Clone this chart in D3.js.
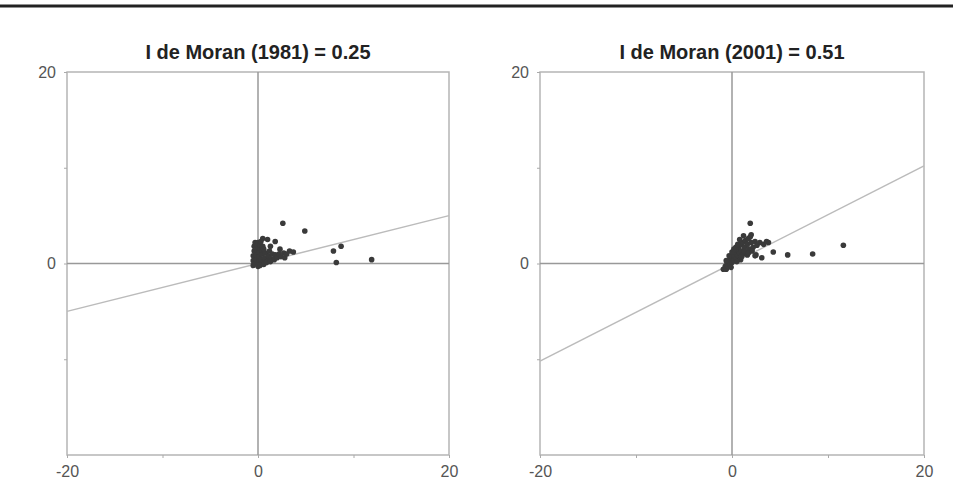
<!DOCTYPE html>
<html lang="en">
	<head>
		<meta charset="utf-8">
		<title>I de Moran</title>
		<script type="text/javascript" src="https://cdnjs.cloudflare.com/ajax/libs/d3/7.8.5/d3.min.js"></script>
		<style type="text/css">
			body { margin: 0; background: #fff; }
			.axis text { font-family: "Liberation Sans Narrow", Arial, sans-serif; font-size: 16px; fill: #555; }
			.axis path, .axis line { stroke: #aaa; }
		</style>
	</head>
	<body>
		<script type="text/javascript">

			var w = 953;
			var h = 500;

			var titles = ["I de Moran (1981) = 0.25", "I de Moran (2001) = 0.51"];
			var slopes = [0.25, 0.51];
			var tickValues = [-20, -10, 0, 10, 20];
			var tickLabels = ["-20", "", "0", "", "20"];

			//1981 points: [x, y]
			var points1981 = [
				[2.6, 4.2], [4.9, 3.4], [7.9, 1.3], [8.7, 1.8], [8.2, 0.1], [11.9, 0.4],
				[3.3, 1.3], [3.7, 1.2], [1.8, 2.3], [0.5, 2.6], [1.0, 2.5],
				[-0.5, -0.2], [-0.5, 0.3], [-0.5, 0.8], [-0.4, 1.3], [-0.4, 1.8], [-0.3, 2.2],
				[-0.3, 0], [-0.2, 0.4], [-0.2, 0.9], [-0.1, 1.4], [-0.1, 1.9], [0, 2.2],
				[0, -0.3], [0.1, 0.3], [0.1, 0.7], [0.1, 1.2], [0.2, 1.6], [0.2, 2.0],
				[0.3, 0.1], [0.3, 0.5], [0.4, 1.0], [0.4, 1.4], [0.5, 1.8], [0.3, 2.3],
				[0.6, 0.2], [0.7, 0.6], [0.8, 1.1], [0.6, 1.5], [1.0, 0.3], [1.1, 0.8],
				[1.2, 1.3], [1.4, 0.5], [1.5, 1.0], [1.7, 0.4], [1.8, 0.9], [2.0, 0.6],
				[2.2, 1.0], [2.4, 0.7], [1.3, 1.8], [2.7, 1.1], [0.2, -0.2], [0.6, -0.1],
				[0.9, 0.1], [1.3, 0.2], [2.8, 0.6], [3.0, 1.0], [2.3, 1.5]
			];

			//2001 points: [x, y]
			var points2001 = [
				[1.9, 4.2], [1.9, 2.8], [4.3, 1.2], [5.8, 0.9], [8.4, 1.0], [11.6, 1.9],
				[3.1, 0.6], [3.8, 2.2], [2.5, 0.9],
				[-0.9, -0.6], [-0.7, -0.3], [-0.6, -0.6], [-0.5, 0], [-0.4, -0.3], [-0.3, 0.3],
				[-0.2, -0.1], [-0.1, 0.5], [0, 0.1], [0.1, 0.8], [0.2, 0.3], [0.3, 1.1],
				[0.4, 0.5], [0.5, 1.4], [0.6, 0.8], [0.7, 1.7], [0.8, 1.1], [0.9, 2.0],
				[1.0, 1.3], [1.1, 2.2], [1.2, 1.0], [1.3, 1.7], [1.4, 2.4], [1.5, 1.2],
				[1.6, 2.0], [1.7, 2.6], [1.8, 1.5], [2.0, 2.2], [2.2, 1.7], [2.4, 2.3],
				[2.6, 1.9], [2.9, 2.2], [3.3, 2.0], [1.6, 0.9], [2.4, 0.8], [0.9, 0.4],
				[0.4, 1.7], [1.2, 2.9], [2.0, 3.0], [3.6, 2.3],
				[-0.6, 0.3], [-0.3, 0.8], [0, 1.2], [0.2, 1.5], [0.6, 2.0], [0.8, 2.5],
				[1.0, 0.7], [1.3, 1.3], [1.7, 1.1], [2.1, 1.3], [0.5, 0.2], [-0.1, -0.4]
			];

			var datasets = [points1981, points2001];
			var xRanges = [[67, 449], [540, 924]];
			var yRange = [455, 72];

			var svg = d3.select("body")
						.append("svg")
						.attr("width", w)
						.attr("height", h);

			//Top rule
			svg.append("line")
			   .attr("x1", 0).attr("x2", w)
			   .attr("y1", 6).attr("y2", 6)
			   .attr("stroke", "#222")
			   .attr("stroke-width", 3);

			datasets.forEach((data, i) => {
				var xScale = d3.scaleLinear().domain([-20, 20]).range(xRanges[i]);
				var yScale = d3.scaleLinear().domain([-20, 20]).range(yRange);
				var g = svg.append("g");

				//Frame
				g.append("rect")
				 .attr("x", xScale(-20)).attr("y", yScale(20))
				 .attr("width", xScale(20) - xScale(-20))
				 .attr("height", yScale(-20) - yScale(20))
				 .attr("fill", "none")
				 .attr("stroke", "#b5b5b5")
				 .attr("stroke-width", 1.5);

				//Axes
				var xAxis = d3.axisBottom(xScale)
							  .tickValues(tickValues)
							  .tickFormat((d, k) => tickLabels[k])
							  .tickSize(3)
							  .tickPadding(8);
				g.append("g")
				 .attr("class", "axis")
				 .attr("transform", `translate(0,${yScale(-20)})`)
				 .call(xAxis)
				 .call(a => a.select(".domain").remove());

				var yAxis = d3.axisLeft(yScale)
							  .tickValues([-10, 0, 10, 20])
							  .tickFormat(d => (d === 0 || d === 20) ? String(d) : "")
							  .tickSize(3)
							  .tickPadding(8);
				g.append("g")
				 .attr("class", "axis")
				 .attr("transform", `translate(${xScale(-20)},0)`)
				 .call(yAxis)
				 .call(a => a.select(".domain").remove());

				//Zero lines
				g.append("line")
				 .attr("x1", xScale(-20)).attr("x2", xScale(20))
				 .attr("y1", yScale(0)).attr("y2", yScale(0))
				 .attr("stroke", "#999").attr("stroke-width", 1.5);
				g.append("line")
				 .attr("x1", xScale(0)).attr("x2", xScale(0))
				 .attr("y1", yScale(-20)).attr("y2", yScale(20))
				 .attr("stroke", "#999").attr("stroke-width", 1.5);

				//Regression line
				g.append("line")
				 .attr("x1", xScale(-20)).attr("y1", yScale(-20 * slopes[i]))
				 .attr("x2", xScale(20)).attr("y2", yScale(20 * slopes[i]))
				 .attr("stroke", "#bbb").attr("stroke-width", 1.5);

				//Points
				g.selectAll("circle")
				 .data(data)
				 .enter()
				 .append("circle")
				 .attr("cx", d => xScale(d[0]))
				 .attr("cy", d => yScale(d[1]))
				 .attr("r", 2.8)
				 .attr("fill", "#3a3a3a");

				//Title
				g.append("text")
				 .attr("x", xScale(0))
				 .attr("y", 59)
				 .attr("text-anchor", "middle")
				 .attr("font-family", "'Liberation Sans Narrow', Arial, sans-serif")
				 .attr("font-weight", "bold")
				 .attr("font-size", 20)
				 .attr("fill", "#222")
				 .text(titles[i]);
			});

		</script>
	</body>
</html>
